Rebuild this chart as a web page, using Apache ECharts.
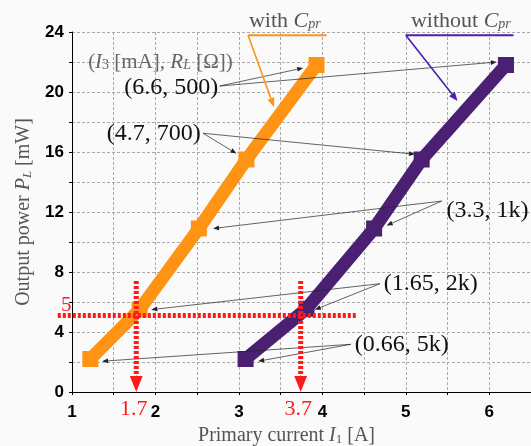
<!DOCTYPE html>
<html>
<head>
<meta charset="utf-8">
<script src="https://cdn.jsdelivr.net/npm/echarts@6/dist/echarts.min.js"></script>
<style>
  html, body { margin: 0; padding: 0; background: #fafafa; }
  #main { width: 531px; height: 446px; }
</style>
</head>
<body>
<div id="main"></div>
<script>
// measured points (primary current I1 [A], output power PL [mW])
var xWith = [1.22, 1.81, 2.52, 3.09, 3.93];
var yWith = [2.2, 5.5, 10.9, 15.5, 21.8];
var xWithout = [3.08, 3.81, 4.62, 5.19, 6.2];
var yWithout = [2.2, 5.55, 10.9, 15.5, 21.8];

// (I3 [mA], RL [Ohm]) labels for each pair of points
var pointLabels = ['(6.6, 500)', '(4.7, 700)', '(3.3, 1k)', '(1.65, 2k)', '(0.66, 5k)'];
var labelPos = [[2.19, 20.3], [1.98, 17.2], [5.98, 12.1], [5.30, 7.25], [4.95, 3.18]];
var arrowFrom = [[2.77, 20.4], [2.57, 17.25], [5.43, 12.73], [4.69, 7.22], [4.34, 3.18]];
var arrowToWith = [[3.77, 21.6], [2.97, 15.9], [2.69, 10.9], [1.95, 5.49], [1.36, 2.05]];
var arrowToWithout = [[6.09, 22.0], [5.11, 15.85], [4.77, 11.1], [3.91, 5.49], [3.23, 2.05]];

// red guide lines at 5 mW
var targetPower = 5.1;
var targetLabel = '5';
var guideCurrents = [1.77, 3.74];
var guideLabels = ['1.7', '3.7'];

var orange = '#ff9414';
var purple = '#4b1f72';
var red = '#ff1a1a';
var serif = "'Liberation Serif', 'DejaVu Serif', serif";

function pairs(xs, ys) {
  var out = [];
  for (var i = 0; i < xs.length; i++) out.push([xs[i], ys[i]]);
  return out;
}

var chart = echarts.init(document.getElementById('main'));

var option = {
  animation: false,
  backgroundColor: '#fafafa',
  grid: { left: 72, right: 0, top: 32, bottom: 54, outerBoundsMode: 'none' },
  xAxis: {
    type: 'value', min: 1, max: 6.5, interval: 0.5,
    name: 'Primary current {i|I}{s|1} [A]',
    nameLocation: 'middle', nameGap: 32,
    nameTextStyle: {
      fontFamily: serif, fontSize: 20, color: '#555', padding: [0, 30, 0, 0],
      rich: {
        i: { fontFamily: serif, fontSize: 20, fontStyle: 'italic', color: '#555' },
        s: { fontFamily: serif, fontSize: 13, color: '#555', verticalAlign: 'bottom', lineHeight: 12 }
      }
    },
    axisLine: { lineStyle: { color: '#000', width: 1 } },
    axisTick: { length: 3, lineStyle: { color: '#000' } },
    axisLabel: {
      margin: 12, color: '#000', fontFamily: "'Liberation Sans', sans-serif",
      fontSize: 17, fontWeight: 'bold',
      formatter: function (v) { return v % 1 === 0 ? String(v) : ''; }
    },
    splitLine: { show: true, lineStyle: { color: '#aaa', type: [3, 2], width: 1 } }
  },
  yAxis: {
    type: 'value', min: 0, max: 24, interval: 2,
    name: 'Output power {i|P}{s|L} [mW]',
    nameLocation: 'middle', nameGap: 34,
    nameTextStyle: {
      fontFamily: serif, fontSize: 20, color: '#555',
      rich: {
        i: { fontFamily: serif, fontSize: 20, fontStyle: 'italic', color: '#555' },
        s: { fontFamily: serif, fontSize: 13, fontStyle: 'italic', color: '#555', verticalAlign: 'bottom', lineHeight: 12 }
      }
    },
    axisLine: { show: true, lineStyle: { color: '#000', width: 1 } },
    axisTick: { show: true, length: 3, lineStyle: { color: '#000' } },
    axisLabel: {
      margin: 8, color: '#000', fontFamily: "'Liberation Sans', sans-serif",
      fontSize: 17, fontWeight: 'bold',
      formatter: function (v) { return v % 4 === 0 ? String(v) : ''; }
    },
    splitLine: { show: true, lineStyle: { color: '#aaa', type: [3, 2], width: 1 } }
  },
  series: [
    {
      name: 'with Cpr', type: 'line', data: pairs(xWith, yWith),
      symbol: 'rect', symbolSize: 16, showSymbol: true,
      lineStyle: { color: orange, width: 13 },
      itemStyle: { color: orange }
    },
    {
      name: 'without Cpr', type: 'line', data: pairs(xWithout, yWithout),
      symbol: 'rect', symbolSize: 16, showSymbol: true,
      lineStyle: { color: purple, width: 13 },
      itemStyle: { color: purple }
    }
  ]
};
chart.setOption(option);

function px(p) { return chart.convertToPixel({ gridIndex: 0 }, p); }

function arrow(a, b, color, w, head, z) {
  var dx = b[0] - a[0], dy = b[1] - a[1];
  var len = Math.sqrt(dx * dx + dy * dy);
  var ux = dx / len, uy = dy / len;
  var base = [b[0] - ux * head, b[1] - uy * head];
  var nx = -uy * head * 0.4, ny = ux * head * 0.4;
  return [
    { type: 'line', z: z, shape: { x1: a[0], y1: a[1], x2: base[0], y2: base[1] }, style: { stroke: color, lineWidth: w } },
    { type: 'polygon', z: z, shape: { points: [b, [base[0] + nx, base[1] + ny], [base[0] - nx, base[1] - ny]] }, style: { fill: color } }
  ];
}

function text(p, str, size, color, rich) {
  return {
    type: 'text', z: 120, x: p[0], y: p[1],
    style: {
      text: str, fontFamily: serif, fontSize: size, fill: color,
      align: 'center', verticalAlign: 'middle', rich: rich
    }
  };
}

var subRich = function (color, size) {
  return {
    t: { fontFamily: serif, fontSize: size, fill: color },
    i: { fontFamily: serif, fontSize: size, fontStyle: 'italic', fill: color },
    s: { fontFamily: serif, fontSize: Math.round(size * 0.65), fontStyle: 'italic', fill: color, verticalAlign: 'bottom', lineHeight: 12 },
    n: { fontFamily: serif, fontSize: Math.round(size * 0.65), fill: color, verticalAlign: 'bottom', lineHeight: 12 }
  };
};

var g = [];

// point labels with arrows
for (var i = 0; i < pointLabels.length; i++) {
  g.push(text(px(labelPos[i]), pointLabels[i], 24, '#111'));
  g = g.concat(arrow(px(arrowFrom[i]), px(arrowToWith[i]), '#222', 0.7, 6, 110));
  g = g.concat(arrow(px(arrowFrom[i]), px(arrowToWithout[i]), '#222', 0.7, 6, 110));
}
g.push(text(px([2.06, 22.0]), '{t|(}{i|I}{n|3}{t| [mA], }{i|R}{s|L}{t| [Ω])}', 21, '#666', subRich('#666', 21)));

// series captions
var capWith = [3.55, 24.75], ulWith = [[3.11, 23.78], [4.05, 23.78]], tipWith = [3.42, 19.0];
var capWithout = [5.66, 24.75], ulWithout = [[5.0, 23.78], [6.29, 23.78]], tipWithout = [5.62, 19.4];
g.push(text(px(capWith), '{t|with }{i|C}{s|pr}', 22, '#555', subRich('#555', 22)));
g.push(text(px(capWithout), '{t|without }{i|C}{s|pr}', 22, '#555', subRich('#555', 22)));
var a = px(ulWith[0]), b = px(ulWith[1]);
g.push({ type: 'line', z: 110, shape: { x1: a[0], y1: a[1], x2: b[0], y2: b[1] }, style: { stroke: orange, lineWidth: 2 } });
g = g.concat(arrow(a, px(tipWith), orange, 1.6, 9, 110));
a = px(ulWithout[0]); b = px(ulWithout[1]);
g.push({ type: 'line', z: 110, shape: { x1: a[0], y1: a[1], x2: b[0], y2: b[1] }, style: { stroke: '#4a1fb0', lineWidth: 2 } });
g = g.concat(arrow(a, px(tipWithout), '#4a1fb0', 1.6, 9, 110));

// red guides
var h0 = px([0.83, targetPower]), h1 = px([4.40, targetPower]);
g.push({ type: 'line', z: 130, shape: { x1: h0[0], y1: h0[1], x2: h1[0], y2: h1[1] }, style: { stroke: red, lineWidth: 5, lineDash: [3, 2] } });
g.push(text(px([0.93, 5.75]), targetLabel, 21, red));
for (var k = 0; k < guideCurrents.length; k++) {
  var v0 = px([guideCurrents[k], 7.4]), v1 = px([guideCurrents[k], 1.1]), vt = px([guideCurrents[k], 0]);
  g.push({ type: 'line', z: 130, shape: { x1: v0[0], y1: v0[1], x2: v1[0], y2: v1[1] }, style: { stroke: red, lineWidth: 5, lineDash: [3, 2] } });
  g = g.concat(arrow(v1, vt, red, 1, 16, 130));
  g.push(text(px([guideCurrents[k] - 0.03, -1.15]), guideLabels[k], 22, red));
}

chart.setOption({ graphic: g });
</script>
</body>
</html>
